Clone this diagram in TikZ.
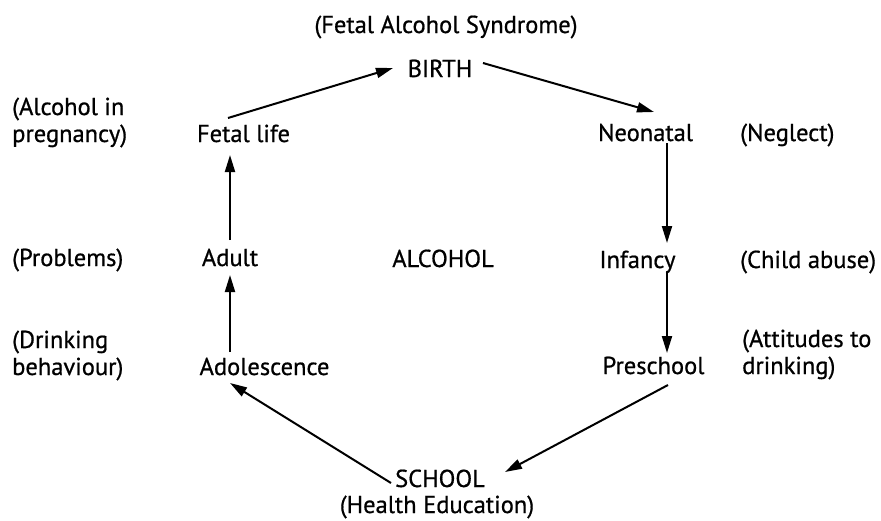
\documentclass[tikz,border=0pt]{standalone}
\usepackage{fontspec}
\setmainfont{PT Sans}
\newfontfamily\lblfont[FakeBold=0.7]{PT Sans}
\usetikzlibrary{arrows.meta,calc}
\begin{document}
\begin{tikzpicture}[x=1pt,y=-1pt,
  lbl/.style={inner sep=0pt,anchor=base,font=\fontsize{24.5}{27}\lblfont},
  side/.style={inner sep=0pt,anchor=base west,align=left,font=\fontsize{24.5}{27}\lblfont},
  arr/.style={line width=2pt,-{Triangle[length=17pt,width=10pt]}}]
\useasboundingbox (0,0) rectangle (881,520);
% stages
\node[lbl] (title) at (446,33) {(Fetal Alcohol Syndrome)};
\node[lbl] (birth) at (440,77) {BIRTH};
\node[lbl] (fetal) at (243.5,142) {Fetal life};
\node[lbl] (neonatal) at (645.5,141) {Neonatal};
\node[lbl] (adult) at (230,266) {Adult};
\node[lbl] (alcohol) at (443,267) {ALCOHOL};
\node[lbl] (infancy) at (637.5,268) {Infancy};
\node[lbl] (adolescence) at (264.5,375) {Adolescence};
\node[lbl] (preschool) at (653.5,374) {Preschool};
\node[lbl] (school) at (440,487) {SCHOOL};
\node[lbl] (health) at (437,513) {(Health Education)};
% side notes
\node[side] (n1) at (12,142) {(Alcohol in\\pregnancy)};
\node[side] (n2) at (12,266) {(Problems)};
\node[side] (n3) at (12,375) {(Drinking\\behaviour)};
\node[side] (n4) at (740,141) {(Neglect)};
\node[side] (n5) at (740,268) {(Child abuse)};
\node[side] (n6) at (742,374) {(Attitudes to\\drinking)};
% cycle arrows
\draw[arr] ($(fetal.base)+(-15.5,-24)$) -- ($(birth.base)+(-47,-9)$);
\draw[arr] ($(birth.base)+(43,-14)$) -- ($(neonatal.base)+(8.5,-29)$);
\draw[arr] ($(neonatal.base)+(21.5,2)$) -- ($(infancy.base)+(29.5,-25)$);
\draw[arr] ($(infancy.base)+(29.5,5)$) -- ($(preschool.base)+(13.5,-21)$);
\draw[arr] ($(preschool.base)+(14.5,11)$) -- ($(school.base)+(65,-15)$);
\draw[arr] ($(school.base)+(-49,-4)$) -- ($(adolescence.base)+(-34.5,8)$);
\draw[arr] ($(adolescence.base)+(-34.5,-23)$) -- ($(adult.base)+(0,9)$);
\draw[arr] ($(adult.base)+(0,-26)$) -- ($(fetal.base)+(-13.5,13)$);
\end{tikzpicture}
\end{document}
